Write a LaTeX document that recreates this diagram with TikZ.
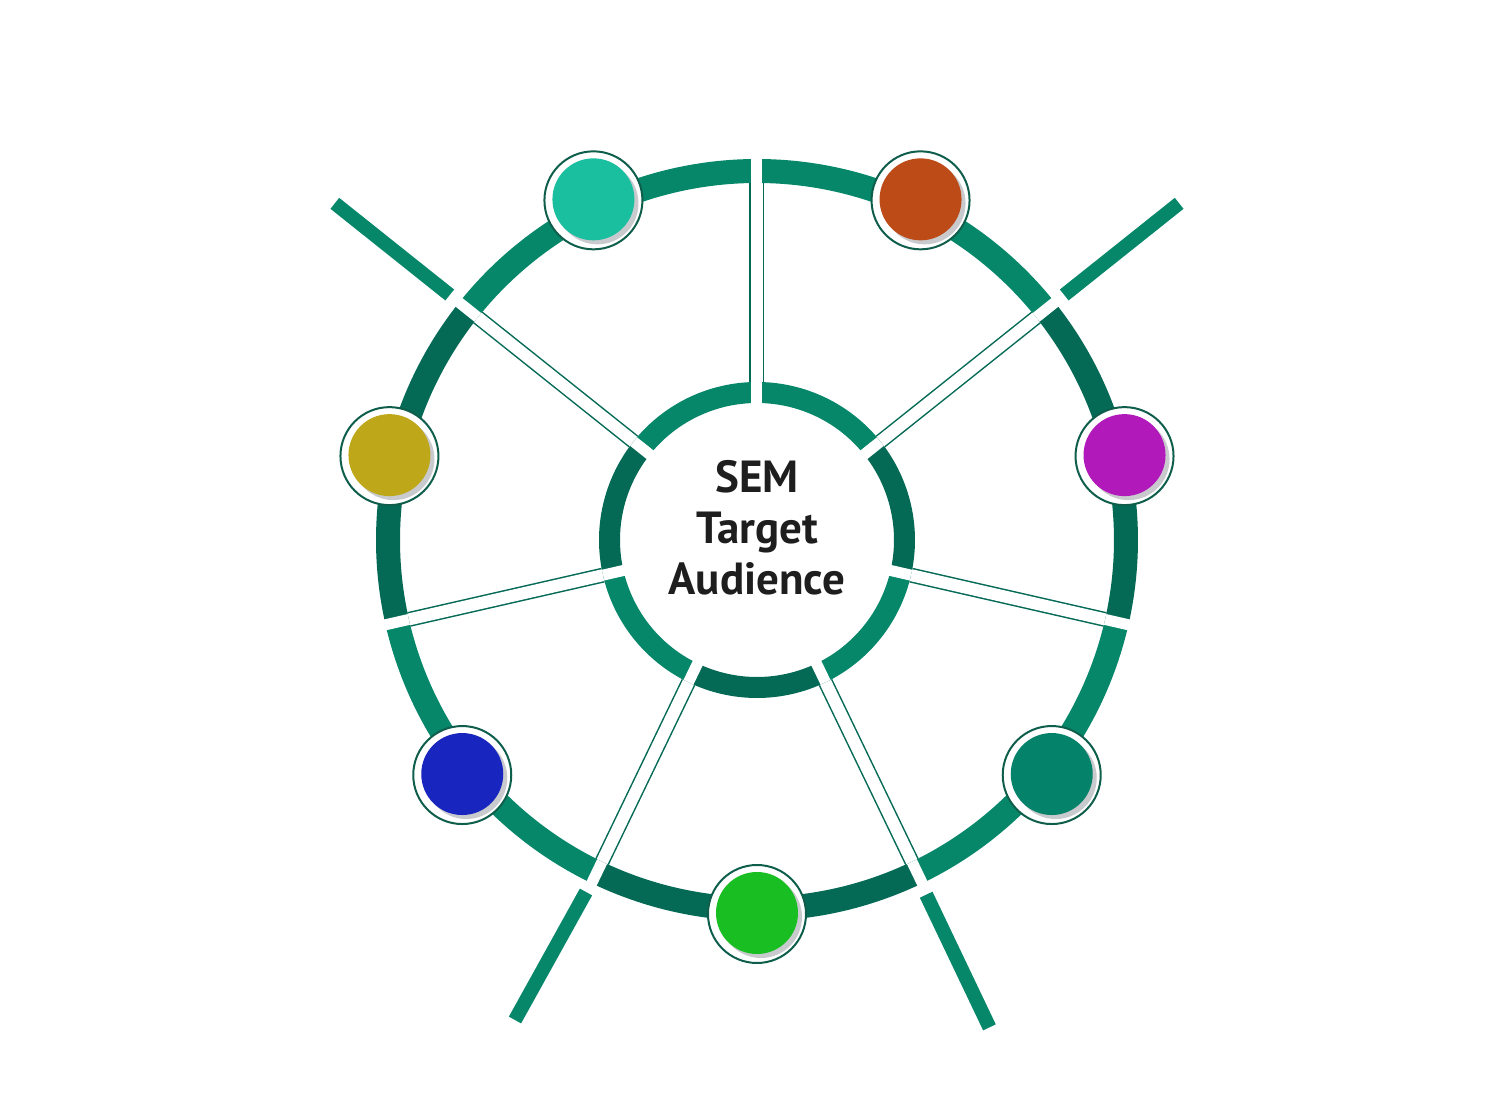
\documentclass[tikz,border=0pt]{standalone}
\usepackage{fontspec}
\setmainfont{PT Sans}
\usetikzlibrary{calc}
\definecolor{ringlight}{HTML}{06876A}
\definecolor{ringdark}{HTML}{046A55}
\definecolor{rimgreen}{HTML}{0E5E4B}
\definecolor{shadowgrey}{HTML}{C9CACE}
\definecolor{textgrey}{HTML}{1E1E1E}
\definecolor{dotteal}{HTML}{1ABFA0}
\definecolor{dotorange}{HTML}{BD4B18}
\definecolor{dotpurple}{HTML}{B219BB}
\definecolor{dotdeep}{HTML}{05836A}
\definecolor{dotgreen}{HTML}{19BE23}
\definecolor{dotblue}{HTML}{1825BE}
\definecolor{dotolive}{HTML}{BEA81A}
\begin{document}
\begin{tikzpicture}[x=1pt, y=1pt,
  outer/.style={line width=24pt},
  inner/.style={line width=21pt},
  gap/.style={white, line width=11pt},
  spoke/.style={draw=ringdark, line width=1.5pt, double=white, double distance=12pt},
  bar/.style={ringlight, line width=14pt},
  rim/.style={draw=rimgreen, line width=2pt, fill=white}]
\useasboundingbox (-757,-562) rectangle (743,540);
\coordinate (O) at (0,0);
\coordinate (D1) at (64.286:377);
\coordinate (D2) at (12.857:377);
\coordinate (D3) at (-38.571:377);
\coordinate (D4) at (-90:374);
\coordinate (D5) at (218.571:377);
\coordinate (D6) at (167.143:377);
\coordinate (D7) at (115.714:377);
\draw[outer, ringlight] (90:369) arc[start angle=90, end angle=38.571, radius=369pt];
\draw[outer, ringdark] (38.571:369) arc[start angle=38.571, end angle=-12.857, radius=369pt];
\draw[outer, ringlight] (-12.857:369) arc[start angle=-12.857, end angle=-64.286, radius=369pt];
\draw[outer, ringdark] (-64.286:369) arc[start angle=-64.286, end angle=-115.714, radius=369pt];
\draw[outer, ringlight] (-115.714:369) arc[start angle=-115.714, end angle=-167.143, radius=369pt];
\draw[outer, ringdark] (-167.143:369) arc[start angle=-167.143, end angle=-218.571, radius=369pt];
\draw[outer, ringlight] (-218.571:369) arc[start angle=-218.571, end angle=-270, radius=369pt];
\draw[inner, ringlight] (90:147.5) arc[start angle=90, end angle=38.571, radius=147.5pt];
\draw[inner, ringdark] (38.571:147.5) arc[start angle=38.571, end angle=-12.857, radius=147.5pt];
\draw[inner, ringlight] (-12.857:147.5) arc[start angle=-12.857, end angle=-64.286, radius=147.5pt];
\draw[inner, ringdark] (-64.286:147.5) arc[start angle=-64.286, end angle=-115.714, radius=147.5pt];
\draw[inner, ringlight] (-115.714:147.5) arc[start angle=-115.714, end angle=-167.143, radius=147.5pt];
\draw[inner, ringdark] (-167.143:147.5) arc[start angle=-167.143, end angle=-218.571, radius=147.5pt];
\draw[inner, ringlight] (-218.571:147.5) arc[start angle=-218.571, end angle=-270, radius=147.5pt];
\draw[gap] (90:125) -- (90:392);
\draw[gap] (38.571:125) -- (38.571:392);
\draw[gap] (-12.857:125) -- (-12.857:392);
\draw[gap] (-64.286:125) -- (-64.286:392);
\draw[gap] (-115.714:125) -- (-115.714:392);
\draw[gap] (-167.143:125) -- (-167.143:392);
\draw[gap] (-218.571:125) -- (-218.571:392);
\draw[spoke] (90:158) -- (90:357);
\draw[spoke] (38.571:158) -- (38.571:357);
\draw[spoke] (-12.857:158) -- (-12.857:357);
\draw[spoke] (-64.286:158) -- (-64.286:357);
\draw[spoke] (-115.714:158) -- (-115.714:357);
\draw[spoke] (-167.143:158) -- (-167.143:357);
\draw[spoke] (-218.571:158) -- (-218.571:357);
\draw[bar] (38.571:393) -- (38.571:540);
\draw[bar] (-64.5:393) -- (-64.5:540);
\draw[bar] (-171,-352) -- (-242,-480);
\draw[bar] (141.429:393) -- (141.429:540);
\draw[rim] (D1) circle[radius=49pt];
\fill[shadowgrey] ($(D1)+(4,-3)$) circle[radius=41pt];
\fill[dotorange] ($(D1)+(0,1)$) circle[radius=41pt];
\draw[rim] (D2) circle[radius=49pt];
\fill[shadowgrey] ($(D2)+(4,-3)$) circle[radius=41pt];
\fill[dotpurple] ($(D2)+(0,1)$) circle[radius=41pt];
\draw[rim] (D3) circle[radius=49pt];
\fill[shadowgrey] ($(D3)+(4,-3)$) circle[radius=41pt];
\fill[dotdeep] ($(D3)+(0,1)$) circle[radius=41pt];
\draw[rim] (D4) circle[radius=49pt];
\fill[shadowgrey] ($(D4)+(4,-3)$) circle[radius=41pt];
\fill[dotgreen] ($(D4)+(0,1)$) circle[radius=41pt];
\draw[rim] (D5) circle[radius=49pt];
\fill[shadowgrey] ($(D5)+(4,-3)$) circle[radius=41pt];
\fill[dotblue] ($(D5)+(0,1)$) circle[radius=41pt];
\draw[rim] (D6) circle[radius=49pt];
\fill[shadowgrey] ($(D6)+(4,-3)$) circle[radius=41pt];
\fill[dotolive] ($(D6)+(0,1)$) circle[radius=41pt];
\draw[rim] (D7) circle[radius=49pt];
\fill[shadowgrey] ($(D7)+(4,-3)$) circle[radius=41pt];
\fill[dotteal] ($(D7)+(0,1)$) circle[radius=41pt];
\node[font=\bfseries\fontsize{45}{51}\selectfont, text=textgrey, align=center] (title) at (O) [yshift=12pt] {SEM\\Target\\Audience};
\end{tikzpicture}
\end{document}
